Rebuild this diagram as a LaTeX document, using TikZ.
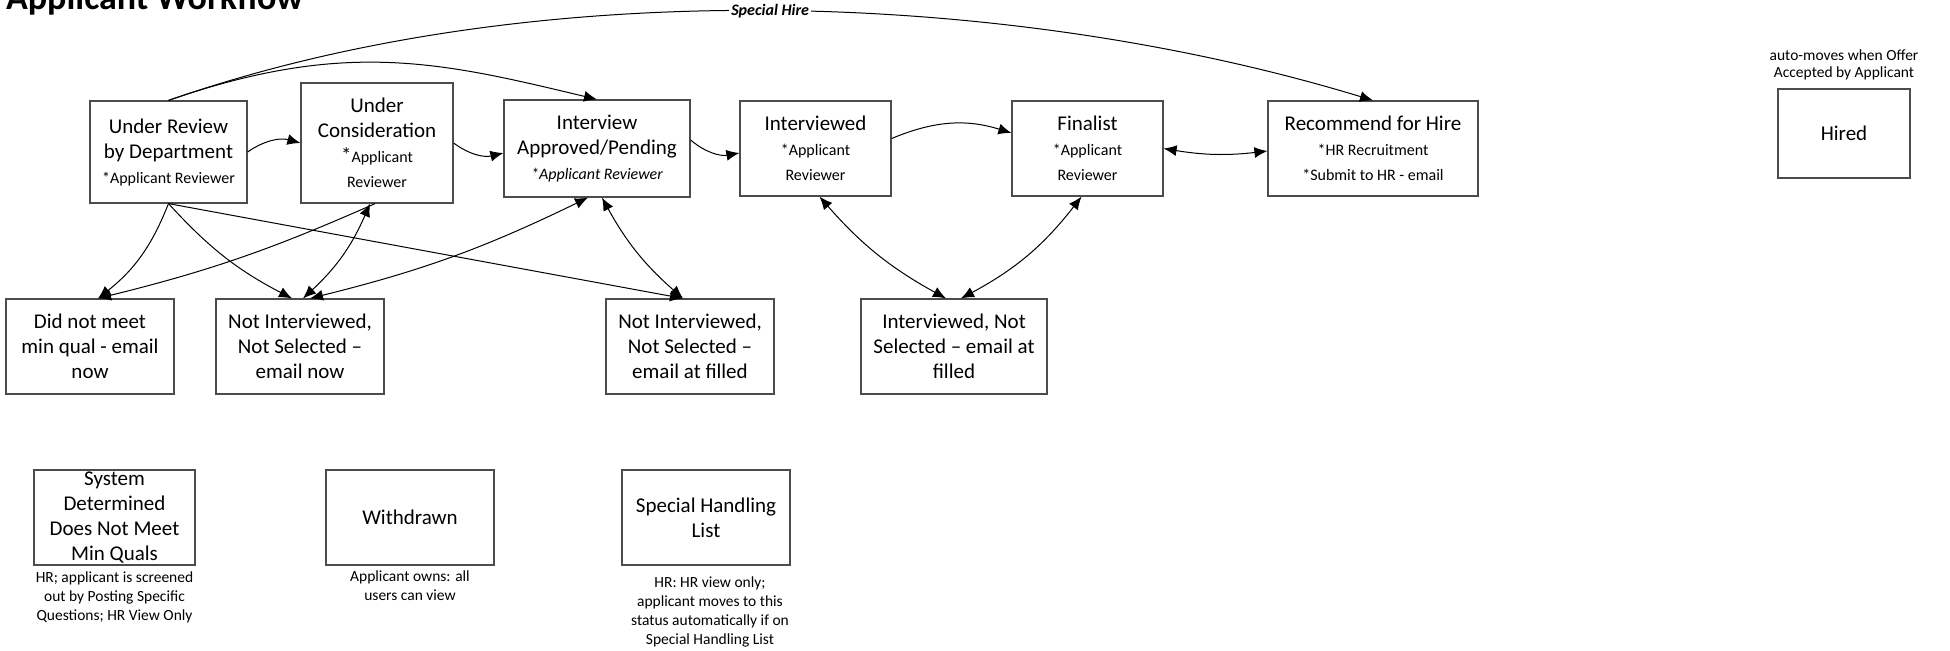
\documentclass[tikz,border=0pt]{standalone}
\usepackage{fontspec}
\setmainfont{Carlito}
\usetikzlibrary{arrows.meta, positioning}

\tikzset{
  state/.style={draw=black!70, line width=0.6pt, align=center, inner sep=0pt,
    font=\fontsize{10.5}{12.5}\selectfont},
  note/.style={align=center, inner sep=0pt, font=\fontsize{7.75}{9.5}\selectfont},
  hire/.style={fill=white, inner sep=1pt, font=\fontsize{8}{9}\selectfont\bfseries\itshape},
  link/.style={->, line width=0.5pt},
}
\newcommand{\who}[1]{{\fontsize{8}{12.5}\selectfont #1}}

\begin{document}
\begin{tikzpicture}[x=0.5pt, y=0.5pt, >={Latex[length=6.5pt,width=5.5pt]}]
  \useasboundingbox (0,0) rectangle (1950,-650);
  \clip (0,0) rectangle (1950,-650);

  \node[anchor=base west, font=\fontsize{18}{20}\selectfont\bfseries] (title) at (-1,-9) {Applicant Workflow};

  % top row
  \node[state, minimum width=78.5pt, minimum height=51pt] (ur) at (168.5,-152)
    {Under Review\\by Department\\\who{*Applicant Reviewer}};
  \node[state, minimum width=76pt, minimum height=60pt] (uc) at (377,-143)
    {Under\\Consideration\\*\who{Applicant}\\\who{Reviewer}};
  \node[state, minimum width=93pt, minimum height=48.5pt] (ia) at (597,-148.5)
    {Interview\\Approved/Pending\\\who{\itshape *Applicant Reviewer}};
  \node[state, minimum width=75.5pt, minimum height=47.5pt] (iv) at (815.5,-148.5)
    {Interviewed\\\who{*Applicant}\\\who{Reviewer}};
  \node[state, minimum width=75.5pt, minimum height=47.5pt] (fin) at (1087.5,-148.5)
    {Finalist\\\who{*Applicant}\\\who{Reviewer}};
  \node[state, minimum width=105pt, minimum height=47.5pt] (rec) at (1373,-148.5)
    {Recommend for Hire\\\who{*HR Recruitment}\\\who{*Submit to HR - email}};
  \node[state, minimum width=66pt, minimum height=44.5pt] (hired) at (1844,-133.5) {Hired};
  \node[note, font=\fontsize{7.75}{8.5}\selectfont, above=4pt of hired] (hirednote)
    {auto-moves when Offer\\Accepted by Applicant};

  % rejection row
  \node[state, minimum width=84pt, minimum height=47.5pt] (dnm) at (90,-346.5)
    {Did not meet\\min qual - email\\now};
  \node[state, minimum width=84pt, minimum height=47.5pt] (nin) at (300,-346.5)
    {Not Interviewed,\\Not Selected --\\email now};
  \node[state, minimum width=84pt, minimum height=47.5pt] (nif) at (690,-346.5)
    {Not Interviewed,\\Not Selected --\\email at filled};
  \node[state, minimum width=93pt, minimum height=47.5pt] (ins) at (954,-346.5)
    {Interviewed, Not\\Selected -- email at\\filled};

  % other statuses
  \node[state, minimum width=80.5pt, minimum height=47.5pt] (sys) at (114.5,-517.5)
    {System\\Determined\\Does Not Meet\\Min Quals};
  \node[note, below=3pt of sys] (sysnote)
    {HR; applicant is screened\\out by Posting Specific\\Questions; HR View Only};
  \node[state, minimum width=84pt, minimum height=47.5pt] (wd) at (410,-517.5) {Withdrawn};
  \node[note, below=2.5pt of wd] (wdnote) {Applicant owns: all\\users can view};
  \node[state, minimum width=84pt, minimum height=47.5pt] (shl) at (706,-517.5)
    {Special Handling\\List};
  \node[note, below=5.5pt of shl, xshift=2pt] (shlnote)
    {HR: HR view only;\\applicant moves to this\\status automatically if on\\Special Handling List};

  % forward moves
  \draw[link] (ur.east) to[bend left=25] (uc.west);
  \draw[link] (uc.east) to[bend right=25] ([yshift=-2.25pt]ia.west);
  \draw[link] ([yshift=4.25pt]ia.east) to[bend right=25] ([yshift=-2.25pt]iv.west);
  \draw[link] ([yshift=5pt]iv.east) to[bend left=20] ([yshift=7.75pt]fin.west);
  \draw[link, <->] (fin.east) to[bend right=8] ([yshift=-1.25pt]rec.west);
  \draw[link] (ur.north) .. controls (345,-39) and (441,-62) .. (ia.north);
  \draw[link] (ur.north) .. controls (533,27) and (1007,11) .. (rec.north)
    node[hire, pos=0.5] {Special Hire};

  % moves down
  \draw[link] (ur.south) to[bend left=15] ([xshift=4pt]dnm.north);
  \draw[link] (ur.south) to[bend right=10] ([xshift=-4pt]nin.north);
  \draw[link] (ur.south) -- ([xshift=-3.5pt]nif.north);
  \draw[link] ([xshift=-1pt]uc.south) to[bend left=5] ([xshift=4pt]dnm.north);
  \draw[link, <->] ([xshift=1.5pt]nin.north) to[bend right=12] ([xshift=-3.5pt]uc.south);
  \draw[link, <->] ([xshift=5pt]nin.north) to[bend right=6] ([xshift=-4.5pt]ia.south);
  \draw[link, <->] ([xshift=2.5pt]ia.south) to[bend right=10] ([xshift=-3.5pt]nif.north);
  \draw[link, <->] ([xshift=2pt]iv.south) to[bend right=10] ([xshift=-4pt]ins.north);
  \draw[link, <->] ([xshift=-3pt]fin.south) to[bend left=12] ([xshift=3.5pt]ins.north);
\end{tikzpicture}
\end{document}
